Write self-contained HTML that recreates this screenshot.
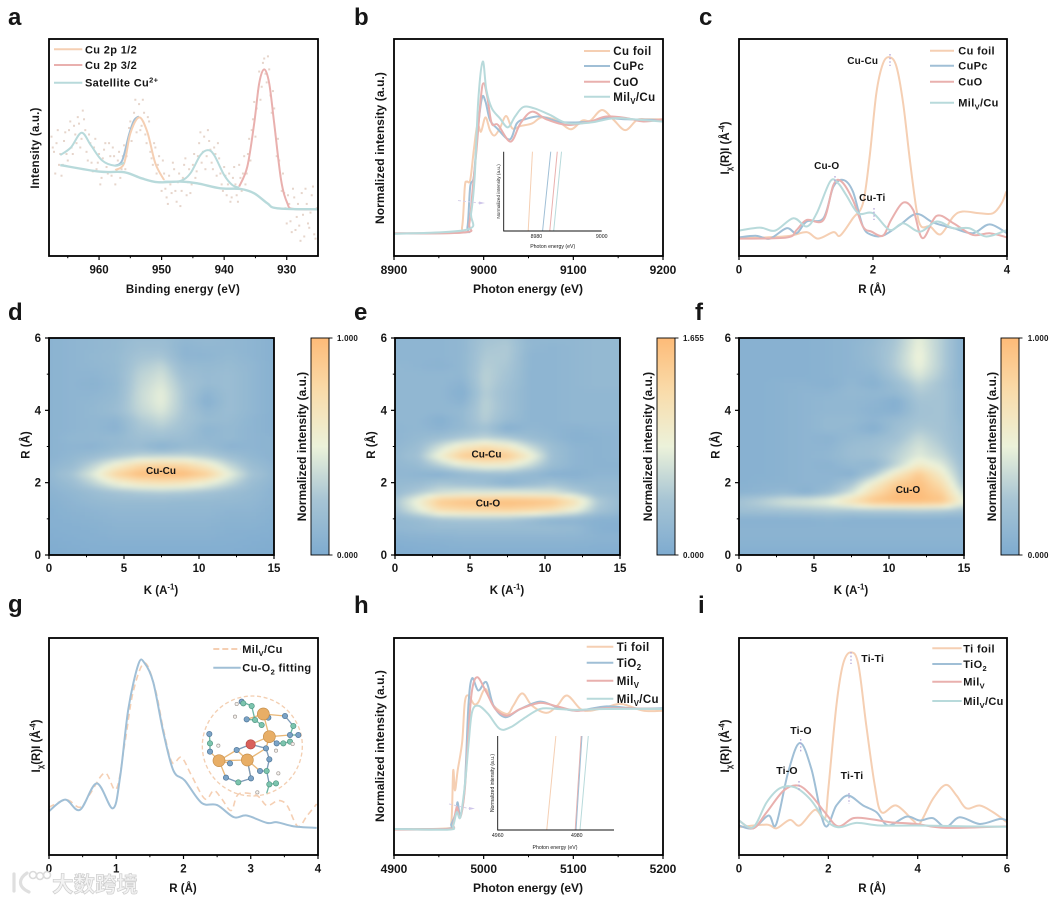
<!DOCTYPE html>
<html lang="en">
<head>
<meta charset="utf-8">
<title>XAFS characterisation panels</title>
<style>
html,body{margin:0;padding:0;background:#fff;}
#figure{display:block;width:1058px;height:902px;font-family:"Liberation Sans","Noto Sans CJK SC",sans-serif;}
</style>
</head>
<body>
<svg id="figure" xmlns="http://www.w3.org/2000/svg" width="1058" height="902" viewBox="0 0 1058 902">
  <defs>
    <linearGradient id="cbar" x1="0" y1="1" x2="0" y2="0">
      <stop offset="0" stop-color="#7eabd0"/>
      <stop offset="0.25" stop-color="#a6c4d4"/>
      <stop offset="0.5" stop-color="#ecf2da"/>
      <stop offset="0.75" stop-color="#f9dcab"/>
      <stop offset="1" stop-color="#fdbb78"/>
    </linearGradient>
    <filter id="soft" x="-5%" y="-5%" width="110%" height="110%"><feGaussianBlur stdDeviation="2"/></filter>
    <filter id="lineSoft" x="-5%" y="-5%" width="110%" height="110%"><feGaussianBlur stdDeviation="0.3"/></filter>
  </defs>
</svg>
<script>
/* ---------- panel a: XPS ---------- */
const aTicks = [960, 950, 940, 930];
const aMinor = [965, 955, 945, 935];
const aPeak12Ev = [957.4, 956, 955, 953.6, 952.3, 951, 949.6];
const aPeak12I = [39.6, 42.7, 56.5, 63.9, 57.3, 42.7, 35];
const aEnvelopeEv = [957.4, 956.3, 955.2, 954.4, 953.6];
const aEnvelopeI = [41.6, 44, 56, 62.5, 64.3];
const aPeak32Ev = [937.6, 936.3, 935.2, 934.4, 933.6, 932.8, 932, 930.9, 929.9, 929, 925];
const aPeak32I = [32, 41.2, 61.1, 79.6, 86, 79.6, 61.1, 35, 24.3, 21.7, 21.5];
const aSat1Ev = [966.2, 964.5, 962.8, 961.3, 959.5, 957.4, 956];
const aSat1I = [46.5, 50, 56.8, 51, 44, 41.6, 43];
const aSat2Ev = [949.6, 947, 945.4, 943.8, 942.6, 941.6, 940, 938.7, 937.6];
const aSat2I = [34.3, 34.6, 38.1, 46.5, 48.8, 46.5, 37.3, 32.7, 31.5];
const aBaseEv = [966.2, 960, 956, 953.2, 950.6, 947, 944.3, 940.6, 937.4, 935.2, 933.1, 931.5, 925];
const aBaseI = [41.9, 38.9, 38.6, 35.8, 34, 34.3, 33.5, 31.2, 30.9, 28.9, 24.3, 22, 21.5];
const aNoiseEv = [967.6,967.2,966.8,966.4,966,965.6,965.2,964.8,964.4,964,963.6,963.2,962.8,962.4,962,961.6,961.2,960.8,960.4,960,959.6,959.2,958.8,958.4,958,957.6,957.2,956.8,956.4,956,955.6,955.2,954.8,954.4,954,953.6,953.2,952.8,952.4,952,951.6,951.2,950.8,950.4,950,949.6,949.2,948.8,948.4,948,947.6,947.2,946.8,946.4,946,945.6,945.2,944.8,944.4,944,943.6,943.2,942.8,942.4,942,941.6,941.2,940.8,940.4,940,939.6,939.2,938.8,938.4,938,937.6,937.2,936.8,936.4,936,935.6,935.2,934.8,934.4,934,933.6,933.2,932.8,932.4,932,931.6,931.2,930.8,930.4,930,929.6,929.2,928.8,928.4,928,927.6,927.2,926.8,926.4,926,925.6,925.2];
const aNoiseI = [55,48,52,42,37,53,47,58,50,60,52,61,54,63,48,56,43,50,40,47,36,49,41,52,37,46,39,48,40,51,46,59,53,66,57,70,60,66,52,62,45,52,38,46,30,38,27,37,29,40,25,38,30,42,28,40,33,47,39,52,43,55,46,53,43,50,37,45,33,41,28,38,27,41,28,42,30,46,38,54,58,71,68,85,78,91,80,86,66,68,46,44,30,29,15,24,11,27,18,14,29,9,24,13,28,10,22];
const aNoise2Ev = [967.4,967,966.6,966.2,965.8,965.4,965,964.6,964.2,963.8,963.4,963,962.6,962.2,961.8,961.4,961,960.6,960.2,959.8,959.4,959,958.6,958.2,957.8,957.4,957,956.6,956.2,955.8,955.4,955,954.6,954.2,953.8,953.4,953,952.6,952.2,951.8,951.4,951,950.6,950.2,949.8,949.4,949,948.6,948.2,947.8,947.4,947,946.6,946.2,945.8,945.4,945,944.6,944.2,943.8,943.4,943,942.6,942.2,941.8,941.4,941,940.6,940.2,939.8,939.4,939,938.6,938.2,937.8,937.4,937,936.6,936.2,935.8,935.4,935,934.6,934.2,933.8,933.4,933,932.6,932.2,931.8,931.4,931,930.6,930.2,929.8,929.4,929,928.6,928.2,927.8,927.4,927,926.6,926.2,925.8,925.4];
const aNoise2I = [50,38,58,47,42,57,44,62,47,56,64,50,67,58,44,52,39,54,43,33,45,52,38,46,50,33,44,36,46,40,52,62,60,72,64,58,72,56,64,48,42,50,42,34,44,31,24,33,43,30,34,23,36,45,34,29,42,36,46,57,48,40,58,49,40,47,52,38,30,37,33,25,36,33,25,36,38,33,47,44,63,55,76,72,89,84,92,74,76,56,54,37,38,22,28,16,31,12,24,7,19,31,15,20,32,8];

/* ---------- panel b: Cu K-edge XANES ---------- */
const bTicks = [8900, 9000, 9100, 9200];
const bMinor = [8950, 9050, 9150];
const bFoilE = [8900,8970,8976,8979,8981,8985,8989,8993,8997,9002,9007,9012,9018,9025,9032,9041,9054,9065,9082,9097,9110,9119,9132,9145,9158,9171,9182,9200];
const bFoilI = [10.4,10.8,13.5,32,34.3,35,48.8,60.4,57.3,63.9,58,55.5,58.8,64.5,58.8,59.9,61.1,63.9,62.4,58.4,62.4,62.4,67.3,62.7,58,62.7,63,63];
const bCuPcE = [8900,8977,8982,8985,8989,8993,8998,9002,9007,9015,9029,9037,9046,9063,9082,9097,9119,9137,9160,9200];
const bCuPcI = [10.4,10.9,13.5,32,36.6,56.5,72.7,71.2,62.7,58.8,53.7,61.1,63,64.3,62,61.5,62,63.5,63,62.7];
const bCuOE = [8900,8979,8984,8988,8992,8997,9000,9004,9009,9016,9030,9041,9054,9070,9093,9119,9137,9160,9178,9200];
const bCuOI = [10.4,10.9,14.9,32,48.8,73.5,79.6,73.5,61.1,60.4,52.7,61.1,66.5,63,60.4,62,64.3,63.5,62,63];
const bMilE = [8900,8981,8986,8990,8994,8999,9003,9009,9018,9027,9035,9044,9056,9074,9093,9119,9145,9167,9200];
const bMilI = [10.2,12.1,19.7,36.6,71.9,89.6,76.5,68.1,63.5,59.3,64.3,68.6,68.1,65,61.2,61.5,63.5,63,61.9];
const bInsetTicks = [8980, 9000];
const bInsetFoil = [8977.5, 8978.8];
const bInsetCuPc = [8981.9, 8984.4];
const bInsetCuO = [8984.1, 8986.4];
const bInsetMil = [8985.3, 8987.7];
const insetLevels = [0, 1];

/* ---------- panel c: Cu FT-EXAFS ---------- */
const cTicks = [0, 2, 4];
const cMinor = [1, 3];
const cFoilR = [0,.41,.76,1.01,1.18,1.41,1.51,1.7,1.85,1.95,2.05,2.15,2.25,2.35,2.45,2.55,2.65,2.72,2.85,3.01,3.2,3.34,3.59,3.79,3.92,3.99];
const cFoilI = [8.2,8.6,9.3,11,8,11,9.4,17.4,24.3,45.8,75,88.8,91.6,87.3,70.4,44.3,21.2,13.6,13.6,10,18.2,20.5,19.7,19.7,24.3,29.7];
const cCuPcR = [0,.26,.46,.71,.86,1.01,1.26,1.41,1.56,1.7,1.85,1.98,2.15,2.4,2.65,2.9,3.2,3.49,3.74,4];
const cCuPcI = [8.6,9.3,8,12.8,10.5,15.9,17.4,32,35,29.7,13.6,9.7,9.4,14.3,19.4,15.4,12.8,10.5,14.6,10.5];
const cCuOR = [0,.71,.86,1.01,1.26,1.41,1.53,1.7,1.85,1.98,2.15,2.27,2.45,2.6,2.74,2.95,3.2,3.49,3.74,4];
const cCuOI = [8,8.5,12,16.6,16.6,32.8,34.3,25.8,13.6,11.2,9.4,16.6,24.6,21.2,8.2,18.5,15.1,9.7,10.5,8.6];
const cMilR = [0,.31,.54,.81,1.01,1.16,1.36,1.48,1.6,1.78,2,2.25,2.45,2.7,2.95,3.2,3.44,3.69,4];
const cMilI = [11.7,13.1,11.7,17.4,13.6,19.7,34.3,33.5,28.1,19.7,19.7,12,15.1,11.2,15.9,12.8,12.8,9,12];

/* ---------- panels d, e, f: wavelet maps (rows R, columns k, percent of scale) ---------- */
const heatK = [0, 1.5, 3, 4.5, 6, 7.5, 9, 10.5, 12, 13.5, 15];
const heatR = [6, 5.75, 5.5, 5.25, 5, 4.75, 4.5, 4.25, 4, 3.75, 3.5, 3.25, 3, 2.75, 2.5, 2.25, 2, 1.75, 1.5, 1.25, 1, .75, .5, .25, 0];
const kTicks = [0, 5, 10, 15];
const kMinor = [2.5, 7.5, 12.5];
const rTicks = [0, 2, 4, 6];
const rMinor = [1, 3, 5];
const dRows = [
[8,10,12,14,18,18,12,14,12,10,6],
[8,10,12,14,20,20,10,12,12,10,6],
[8,10,13,15,24,26,10,10,14,10,6],
[8,10,12,14,28,34,16,14,16,12,6],
[8,10,10,14,32,40,20,16,18,12,6],
[8,10,8,13,34,44,24,16,18,12,6],
[8,10,10,14,36,48,26,10,18,12,6],
[8,10,12,16,36,48,26,6,18,12,6],
[8,10,13,18,34,44,26,12,18,12,6],
[8,10,12,10,28,36,24,16,16,10,6],
[8,10,12,8,24,28,22,10,14,10,6],
[8,12,13,14,20,20,18,12,14,10,8],
[8,10,8,14,16,6,14,16,8,10,8],
[8,12,18,26,34,36,36,30,20,12,8],
[10,16,34,56,76,82,78,60,36,18,10],
[12,24,46,80,97,100,98,84,50,24,12],
[10,18,34,52,64,68,64,52,36,18,10],
[8,12,18,24,28,30,28,24,18,14,8],
[6,10,14,16,16,16,14,14,14,12,8],
[5,8,10,12,12,12,12,12,10,10,6],
[5,6,8,10,10,10,10,10,8,8,5],
[4,5,6,8,8,8,8,8,6,6,4],
[3,4,5,6,6,6,6,6,5,4,3],
[2,3,4,4,4,4,4,4,4,3,2],
[1,2,3,3,3,3,3,3,3,2,1]];
const eRows = [
[10,10,10,12,24,26,12,12,12,14,14],
[10,10,10,12,26,28,12,10,12,14,14],
[10,10,10,12,28,28,10,10,12,14,14],
[12,10,8,12,30,26,10,10,12,14,14],
[12,12,12,12,32,24,10,10,12,14,14],
[12,12,12,8,32,22,10,10,12,14,14],
[12,12,12,4,30,20,10,10,12,12,12],
[12,12,12,8,32,20,10,10,12,12,12],
[12,12,12,14,32,20,10,10,12,12,12],
[12,12,5,14,30,16,10,10,12,12,12],
[10,12,8,14,22,4,12,10,8,10,10],
[10,14,20,28,34,28,18,12,6,8,10],
[12,18,40,62,74,62,38,18,10,8,10],
[14,22,54,86,94,88,56,20,10,8,10],
[12,16,32,48,56,54,38,18,10,8,8],
[12,10,6,14,18,18,14,6,6,10,10],
[14,16,24,20,16,6,14,22,14,14,14],
[16,28,40,44,44,46,44,42,30,16,14],
[26,54,90,96,98,100,98,94,70,30,16],
[22,44,70,76,78,80,76,68,50,24,14],
[12,16,22,24,24,22,16,8,8,6,6],
[12,14,16,16,16,16,16,16,14,6,4],
[6,8,8,10,10,10,10,10,10,8,8],
[3,4,5,6,6,6,6,6,6,5,5],
[2,3,3,4,4,4,4,4,4,3,3]];
const fRows = [
[6,6,6,6,8,10,14,26,48,30,6],
[6,6,6,6,8,10,16,28,50,30,6],
[6,6,6,6,8,10,16,30,52,30,6],
[6,6,6,6,8,10,14,30,50,30,6],
[6,6,6,6,8,10,10,26,44,28,6],
[6,6,8,8,6,12,6,18,34,24,8],
[6,6,8,10,10,14,12,14,28,24,10],
[6,6,8,10,12,12,10,4,24,24,10],
[6,6,8,10,12,12,8,6,22,24,10],
[6,6,8,10,14,14,10,16,24,24,12],
[6,6,8,10,14,12,4,20,28,24,14],
[6,6,8,10,8,14,16,22,36,26,14],
[6,6,8,10,10,18,20,28,42,30,14],
[6,6,8,10,12,18,20,32,46,36,16],
[6,6,8,10,8,14,10,34,60,46,18],
[6,6,8,10,10,6,28,62,88,58,20],
[6,8,8,10,10,24,56,86,96,72,24],
[8,10,14,6,18,40,74,96,98,84,36],
[24,32,42,46,52,72,94,100,100,94,50],
[20,22,24,26,28,28,30,30,32,30,24],
[6,6,6,6,8,6,6,6,6,6,6],
[8,8,8,8,8,8,8,8,8,8,8],
[8,8,8,8,8,8,8,8,8,8,8],
[6,6,6,6,6,6,6,6,6,6,6],
[4,4,4,4,4,4,4,4,4,4,4]];

/* ---------- panel g: fit ---------- */
const gTicks = [0, 1, 2, 3, 4];
const gMinor = [.5, 1.5, 2.5, 3.5];
const gDataR = [0,.26,.46,.61,.83,1,1.13,1.25,1.42,1.58,1.7,1.83,1.97,2.12,2.32,2.45,2.57,2.71,2.82,3.09,3.24,3.41,3.54,3.7,3.84,3.98];
const gDataI = [22,25.4,22,28.1,37.8,30.4,52,75,88.5,76.5,58.1,42.7,45,36.6,25.8,29.7,25.8,20.5,28.1,27.4,22.8,25.1,22.8,13.2,18.2,23.5];
const gFitR = [0,.24,.46,.71,.95,1.06,1.18,1.33,1.42,1.55,1.7,1.85,2.02,2.27,2.5,2.75,2.94,3.24,3.39,3.64,3.98];
const gFitI = [20.2,25.5,20.8,33,21.5,36.6,67.3,88,88.5,79.6,56.6,38.9,34.3,24,23,17.4,18.2,14.8,15.1,13.2,12.5];

/* ---------- panel h: Ti K-edge XANES ---------- */
const hTicks = [4900, 5000, 5100, 5200];
const hMinor = [4950, 5050, 5150];
const hFoilE = [4900,4959,4964,4966,4968,4971,4976,4979,4983,4989,4994,5002,5011,5026,5033,5043,5054,5070,5082,5093,5108,5119,5137,5154,5178,5200];
const hFoilI = [12,12.3,15.1,38.9,29.7,38.9,52,70.4,73.5,69.6,70.4,76.5,68.8,65,68.8,74.5,68.8,65.5,68.8,73.5,67.3,66.5,68.1,69.6,66.5,66.5];
const hTiO2E = [4900,4959,4964,4969,4971,4974,4979,4983,4987,4994,5003,5011,5024,5041,5063,5082,5104,5137,5167,5200];
const hTiO2I = [12,12,14.3,19.7,24.3,18.2,32,68.8,81.4,75.8,79.6,68.8,63.5,67.3,70.7,68.1,66.5,68.5,67.6,67.6];
const hMilE = [4900,4961,4966,4970,4974,4979,4983,4987,4993,5003,5013,5026,5041,5063,5082,5104,5137,5200];
const hMilI = [11.7,12,14.3,22,17.4,30.4,56.6,75.8,81.9,75,67.3,64.2,67.3,70.1,68.5,66.5,67.6,67.3];
const hMilCuE = [4900,4961,4966,4970,4974,4979,4983,4987,4994,5005,5018,5030,5044,5063,5082,5104,5137,5200];
const hMilCuI = [12,11.7,13.6,19.7,17.4,32,50.4,65.8,68.8,65,58.1,58.9,62.7,67.3,67.3,66.9,67.3,67.3];
const hInsetTicks = [4960, 4980];
const hInsetFoil = [4972.4, 4974.7];
const hInsetTiO2 = [4979.8, 4981.3];
const hInsetMil = [4979.6, 4981.1];
const hInsetMilCu = [4980.8, 4982.9];

/* ---------- panel i: Ti FT-EXAFS ---------- */
const iTicks = [0, 2, 4, 6];
const iMinor = [1, 3, 5];
const iFoilR = [0,.62,.84,1.14,1.36,1.7,1.92,2,2.18,2.33,2.5,2.67,2.85,3.04,3.19,3.52,3.9,4.04,4.34,4.63,4.87,5.09,5.39,5.69,6];
const iFoilI = [12.8,14,12.3,16.2,13.6,20.8,16.6,30.4,68.8,88,93.4,88,59.6,32,19.7,22.8,15.9,14.3,25.8,32.3,27.4,21.5,22.8,19.7,15.1];
const iTiO2R = [0,.32,.66,.83,1.1,1.36,1.62,1.92,2.18,2.44,2.78,3.08,3.34,3.75,4.05,4.34,4.63,4.94,5.39,5.83,6];
const iTiO2I = [13.6,12.3,18.2,14,38.1,51.6,39.7,13.6,22.8,27.4,22.8,19.7,13.6,17.7,15.9,17,12.8,17.4,14.3,16.6,15.9];
const iMilR = [0,.32,.62,1,1.33,1.62,1.92,2.22,2.56,2.93,3.38,3.97,4.64,6];
const iMilI = [15.9,12.3,19.7,29.7,32,27.4,19.7,13.2,17,16.6,15.1,14.3,12.5,13.2];
const iMilCuR = [0,.32,.62,.92,1.25,1.59,1.92,2.22,2.63,3.15,3.97,5.09,6];
const iMilCuI = [15.9,12.8,24.3,30.8,31.2,25.8,16.6,12.8,14.8,13.6,13.6,13.2,13];

/* ---------- rendering ---------- */
const NS = 'http://www.w3.org/2000/svg';
const root = document.getElementById('figure');
const PEACH = '#f5cfb3', BLUE = '#a0bfd6', PINK = '#e9b0ae', TEAL = '#b8dadb';
const INK = '#161616';

function node(tag, parent, attrs) {
  const n = document.createElementNS(NS, tag);
  for (const k in attrs) n.setAttribute(k, attrs[k]);
  parent.appendChild(n);
  return n;
}

function label(parent, parts, x, y, size, name, opts) {
  opts = opts || {};
  const t = node('text', parent, {
    x: x, y: y, 'font-size': size, fill: opts.fill || INK,
    'font-weight': opts.weight || 'bold',
    'text-anchor': opts.anchor || 'start',
    'font-family': '"Liberation Sans","Noto Sans CJK SC",sans-serif'
  });
  
  
  if (opts.spacing) t.setAttribute('letter-spacing', opts.spacing);
  if (opts.rotate) t.setAttribute('transform', 'rotate(-90 ' + x + ' ' + y + ')');
  let back = 0;
  [].concat(parts).forEach(function (p) {
    const s = node('tspan', t, {});
    if (typeof p === 'string') {
      s.textContent = p;
      if (back) { s.setAttribute('dy', back); back = 0; }
    } else {
      const shift = p.sub ? size * 0.28 : -size * 0.38;
      s.textContent = p.sub || p.sup;
      s.setAttribute('font-size', size * 0.68);
      s.setAttribute('dy', shift + back);
      back = -shift;
    }
  });
  return t;
}

function panel(name, left, right, top, bottom, xDomain, yDomain) {
  const g = node('g', root, {});
  
  
  return {
    g: g, left: left, right: right, top: top, bottom: bottom,
    x: function (v) { return left + (v - xDomain[0]) / (xDomain[1] - xDomain[0]) * (right - left); },
    y: function (v) { return bottom - (v - yDomain[0]) / (yDomain[1] - yDomain[0]) * (bottom - top); }
  };
}

function smooth(pts) {
  let d = 'M' + pts[0][0].toFixed(2) + ' ' + pts[0][1].toFixed(2);
  for (let i = 0; i < pts.length - 1; i++) {
    const p0 = pts[Math.max(0, i - 1)], p1 = pts[i], p2 = pts[i + 1], p3 = pts[Math.min(pts.length - 1, i + 2)];
    const c1x = p1[0] + (p2[0] - p0[0]) / 6, c1y = p1[1] + (p2[1] - p0[1]) / 6;
    const c2x = p2[0] - (p3[0] - p1[0]) / 6, c2y = p2[1] - (p3[1] - p1[1]) / 6;
    d += 'C' + c1x.toFixed(2) + ' ' + c1y.toFixed(2) + ' ' + c2x.toFixed(2) + ' ' + c2y.toFixed(2) + ' ' + p2[0].toFixed(2) + ' ' + p2[1].toFixed(2);
  }
  return d;
}

function series(p, xs, ys, color, name, width, dash) {
  const pts = xs.map(function (v, i) { return [p.x(v), p.y(ys[i])]; });
  const s = node('path', p.g, { d: smooth(pts), fill: 'none', stroke: color, 'stroke-width': width || 2, 'stroke-linejoin': 'round', filter: 'url(#lineSoft)' });
  if (dash) s.setAttribute('stroke-dasharray', dash);
  
  
  return s;
}

function frame(p) {
  const f = node('rect', p.g, { x: p.left, y: p.top, width: p.right - p.left, height: p.bottom - p.top, fill: 'none', stroke: '#000', 'stroke-width': 1.8 });
  
  
}

function xAxis(p, ticks, minor, size, dy, fmt) {
  ticks.forEach(function (v) {
    const t = node('line', p.g, { x1: p.x(v), x2: p.x(v), y1: p.bottom, y2: p.bottom + 4, stroke: '#000', 'stroke-width': 1.2 });
    
    
    label(p.g, fmt ? fmt(v) : String(v), p.x(v), p.bottom + dy, size, 'x-tick-label', { anchor: 'middle' });
  });
  minor.forEach(function (v) {
    const t = node('line', p.g, { x1: p.x(v), x2: p.x(v), y1: p.bottom, y2: p.bottom + 2.2, stroke: '#000', 'stroke-width': 1 });
    
    
  });
}

function yAxis(p, ticks, minor, size, labelRight) {
  ticks.forEach(function (v) {
    const t = node('line', p.g, { x1: p.left - 4, x2: p.left, y1: p.y(v), y2: p.y(v), stroke: '#000', 'stroke-width': 1.2 });
    
    
    label(p.g, String(v), labelRight, p.y(v) + 4, size, 'y-tick-label', { anchor: 'end' });
  });
  minor.forEach(function (v) {
    const t = node('line', p.g, { x1: p.left - 2.2, x2: p.left, y1: p.y(v), y2: p.y(v), stroke: '#000', 'stroke-width': 1 });
    
    
  });
}

function legend(p, x1, x2, textX, items, size) {
  items.forEach(function (it) {
    const l = node('line', p.g, { x1: x1, x2: x2, y1: it.y, y2: it.y, stroke: it.color, 'stroke-width': 2 });
    if (it.dash) l.setAttribute('stroke-dasharray', it.dash);
    
    
    label(p.g, it.parts, textX, it.y + size * 0.36, size, 'legend-entry', { spacing: it.spacing === undefined ? 0.35 : it.spacing });
  });
}

function dottedMark(p, x, y1, y2) {
  const m = node('line', p.g, { x1: x, x2: x, y1: y1, y2: y2, stroke: '#b3a6d8', 'stroke-width': 1.3, 'stroke-dasharray': '1.6 2' });
  
  
}

function inset(p, left, right, top, bottom, xDomain, ticks, lines, opts) {
  const g = node('g', p.g, {});
  
  
  const ix = function (v) { return left + (v - xDomain[0]) / (xDomain[1] - xDomain[0]) * (right - left); };
  const iy = function (v) { return bottom - v * (bottom - top); };
  lines.forEach(function (l) {
    const s = node('line', g, { x1: ix(l.values[0]), x2: ix(l.values[1]), y1: iy(insetLevels[0]), y2: iy(insetLevels[1]), stroke: l.color, 'stroke-width': 1 });
    
    
  });
  const ax = node('path', g, { d: 'M' + left + ' ' + top + 'V' + bottom + 'H' + right, fill: 'none', stroke: '#111', 'stroke-width': 0.9 });
  
  
  ticks.forEach(function (v) {
    label(g, String(v), ix(v), bottom + 7, 5.2, 'inset-tick-label', { anchor: 'middle', weight: 'normal' });
  });
  label(g, 'Normalized intensity (a.u.)', left - 3.5, (top + bottom) / 2, opts.ySize, 'inset-y-title', { anchor: 'middle', rotate: true, weight: 'normal' });
  label(g, 'Photon energy (eV)', opts.titleX, opts.titleY, 5.2, 'inset-x-title', { anchor: 'middle', weight: 'normal' });
}

function arrowMark(p, x1, y1, x2, y2) {
  const a = node('line', p.g, { x1: x1, y1: y1, x2: x2 - 6, y2: y2, stroke: '#d8d2ea', 'stroke-width': 1, 'stroke-dasharray': '3 2' });
  
  
  const h = node('polygon', p.g, { points: (x2 - 6) + ',' + (y2 - 1.5) + ' ' + x2 + ',' + y2 + ' ' + (x2 - 6) + ',' + (y2 + 1.5), fill: '#cfc6ea' });
  
  
}

/* colour scale */
const scaleStops = [[0, [126, 171, 208]], [.25, [166, 196, 212]], [.5, [236, 242, 218]], [.75, [249, 220, 171]], [1, [253, 187, 120]]];
function colour(t) {
  t = Math.max(0, Math.min(1, t));
  for (let i = 0; i < scaleStops.length - 1; i++) {
    const a = scaleStops[i], b = scaleStops[i + 1];
    if (t <= b[0]) {
      const f = (t - a[0]) / (b[0] - a[0]);
      return 'rgb(' + a[1].map(function (c, j) { return Math.round(c + (b[1][j] - c) * f); }).join(',') + ')';
    }
  }
  return 'rgb(253,187,120)';
}

function cellValue(rows, k, r) {
  const fc = Math.max(0, Math.min(heatK.length - 1.0001, k / (heatK[1] - heatK[0])));
  const fr = Math.max(0, Math.min(heatR.length - 1.0001, (heatR[0] - r) / (heatR[0] - heatR[1])));
  const c = Math.floor(fc), w = Math.floor(fr), a = fc - c, b = fr - w;
  return (rows[w][c] * (1 - a) + rows[w][c + 1] * a) * (1 - b) + (rows[w + 1][c] * (1 - a) + rows[w + 1][c + 1] * a) * b;
}

let clipCount = 0;
function heatmap(p, rows) {
  clipCount++;
  const cp = node('clipPath', p.g, { id: 'clip' + clipCount });
  node('rect', cp, { x: p.left, y: p.top, width: p.right - p.left, height: p.bottom - p.top });
  const outer = node('g', p.g, { 'clip-path': 'url(#clip' + clipCount + ')' });
  
  
  const g = node('g', outer, { filter: 'url(#soft)' });
  const stepK = 0.3, stepR = 0.1;
  for (let k = -1.5; k < 16.5; k += stepK) {
    for (let r = -0.6; r < 6.6; r += stepR) {
      const v = cellValue(rows, k + stepK / 2, r + stepR / 2);
      const cell = node('rect', g, {
        x: p.x(k), y: p.y(r + stepR),
        width: p.x(k + stepK) - p.x(k) + 0.6, height: p.y(r) - p.y(r + stepR) + 0.6,
        fill: colour(v / 100)
      });
      
      
    }
  }
}

function colorbar(p, left, right, top, bottom, topLabel, textX, titleX) {
  const b = node('rect', p.g, { x: left, y: top, width: right - left, height: bottom - top, fill: 'url(#cbar)', stroke: '#000', 'stroke-width': 0.9 });
  
  
  [top, bottom].forEach(function (y) {
    const t = node('line', p.g, { x1: right, x2: right + 3.5, y1: y, y2: y, stroke: '#000', 'stroke-width': 0.9 });
    
    
  });
  label(p.g, topLabel, textX, top + 3, 8, 'colorbar-max-label', { spacing: 0.2 });
  label(p.g, '0.000', textX, bottom + 3, 8, 'colorbar-min-label', { spacing: 0.2 });
  label(p.g, 'Normalized intensity (a.u.)', titleX, (top + bottom) / 2, 12, 'colorbar-title', { anchor: 'middle', rotate: true });
}

function panelLetter(text, x, y) {
  label(root, text, x, y, 24, 'panel-label-' + text, {});
}

/* --- a --- */
const pa = panel('xps-panel', 49, 318, 39, 256, [968, 925], [0, 100]);
const noiseGroup = node('g', pa.g, {});


aNoiseEv.forEach(function (v, i) {
  const d = node('rect', noiseGroup, { x: pa.x(v) - 1, y: pa.y(aNoiseI[i]) - 1, width: 2, height: 2, fill: '#e6d5cb' });
  
  
});
aNoise2Ev.forEach(function (v, i) {
  const d = node('rect', noiseGroup, { x: pa.x(v) - 1, y: pa.y(aNoise2I[i]) - 1, width: 2, height: 2, fill: '#e6d5cb' });
  
  
});
series(pa, aEnvelopeEv, aEnvelopeI, BLUE, 'envelope-curve');
series(pa, aPeak12Ev, aPeak12I, PEACH, 'cu-2p-1-2-curve');
series(pa, aPeak32Ev, aPeak32I, PINK, 'cu-2p-3-2-curve');
series(pa, aSat1Ev, aSat1I, TEAL, 'satellite-curve-high');
series(pa, aSat2Ev, aSat2I, TEAL, 'satellite-curve-low');
series(pa, aBaseEv, aBaseI, TEAL, 'background-curve', 2.4);
frame(pa);
xAxis(pa, aTicks, aMinor, 11.5, 17.5);
legend(pa, 54, 82.3, 85, [
  { y: 49.3, color: PEACH, parts: 'Cu 2p 1/2' },
  { y: 65, color: PINK, parts: 'Cu 2p 3/2' },
  { y: 82.7, color: TEAL, parts: ['Satellite Cu', { sup: '2+' }] }
], 11);
label(pa.g, 'Binding energy (eV)', 183, 293, 11.5, 'x-axis-title', { anchor: 'middle', spacing: 0.3 });
label(pa.g, 'Intensity (a.u.)', 39, 148, 11.5, 'y-axis-title', { anchor: 'middle', rotate: true, spacing: 0.2 });
panelLetter('a', 8, 25);

/* --- b --- */
const pb = panel('cu-xanes-panel', 394, 663, 39, 256, [8900, 9200], [0, 100]);
series(pb, bFoilE, bFoilI, PEACH, 'cu-foil-line');
series(pb, bCuPcE, bCuPcI, BLUE, 'cupc-line');
series(pb, bCuOE, bCuOI, PINK, 'cuo-line');
series(pb, bMilE, bMilI, TEAL, 'milv-cu-line');
arrowMark(pb, 458, 200.5, 485, 203);
inset(pb, 503.7, 601.7, 151.7, 231, [8970, 9000], bInsetTicks, [
  { values: bInsetFoil, color: PEACH }, { values: bInsetCuPc, color: BLUE },
  { values: bInsetCuO, color: PINK }, { values: bInsetMil, color: TEAL }
], { ySize: 4.7, titleX: 552.7, titleY: 248 });
frame(pb);
xAxis(pb, bTicks, bMinor, 12, 18);
legend(pb, 584, 610, 613.3, [
  { y: 51, color: PEACH, parts: 'Cu foil' },
  { y: 66, color: BLUE, parts: 'CuPc' },
  { y: 81.7, color: PINK, parts: 'CuO' },
  { y: 96.7, color: TEAL, parts: ['Mil', { sub: 'V' }, '/Cu'] }
], 11.5);
label(pb.g, 'Photon energy (eV)', 528, 293, 12, 'x-axis-title', { anchor: 'middle' });
label(pb.g, 'Normalized intensity (a.u.)', 384, 148, 12, 'y-axis-title', { anchor: 'middle', rotate: true, spacing: 0.1 });
panelLetter('b', 354, 25);

/* --- c --- */
const pc = panel('cu-exafs-panel', 739, 1007, 39, 256, [0, 4], [0, 100]);
series(pc, cFoilR, cFoilI, PEACH, 'cu-foil-line');
series(pc, cCuPcR, cCuPcI, BLUE, 'cupc-line');
series(pc, cCuOR, cCuOI, PINK, 'cuo-line');
series(pc, cMilR, cMilI, TEAL, 'milv-cu-line');
dottedMark(pc, 890, 54, 66);
dottedMark(pc, 835, 176, 184);
dottedMark(pc, 874, 208, 220);
label(pc.g, 'Cu-Cu', 862.7, 64, 10, 'peak-label-cu-cu', { anchor: 'middle' , spacing: 0.2});
label(pc.g, 'Cu-O', 826.7, 169, 10, 'peak-label-cu-o', { anchor: 'middle', spacing: 0.2 });
label(pc.g, 'Cu-Ti', 872.3, 201, 10, 'peak-label-cu-ti', { anchor: 'middle', spacing: 0.2 });
frame(pc);
xAxis(pc, cTicks, cMinor, 11.5, 17.5);
legend(pc, 930, 954, 958.3, [
  { y: 50.7, color: PEACH, parts: 'Cu foil' },
  { y: 65.7, color: BLUE, parts: 'CuPc' },
  { y: 81.7, color: PINK, parts: 'CuO' },
  { y: 102.7, color: TEAL, parts: ['Mil', { sub: 'V' }, '/Cu'] }
], 11);
label(pc.g, 'R (Å)', 872, 293, 11.5, 'x-axis-title', { anchor: 'middle' });
label(pc.g, ['I', { sub: 'χ' }, '(R)I (Å', { sup: '-4' }, ')'], 729, 148, 11.5, 'y-axis-title', { anchor: 'middle', rotate: true });
panelLetter('c', 699, 25);

/* --- d --- */
const pd = panel('cu-foil-wavelet-panel', 49, 274, 338, 555, [0, 15], [0, 6]);
heatmap(pd, dRows);
frame(pd);
xAxis(pd, kTicks, kMinor, 11.5, 17);
yAxis(pd, rTicks, rMinor, 11.5, 41);
label(pd.g, 'Cu-Cu', 161, 474, 10, 'peak-label-cu-cu', { anchor: 'middle' });
label(pd.g, ['K (A', { sup: '-1' }, ')'], 161, 594, 11.5, 'x-axis-title', { anchor: 'middle' });
label(pd.g, 'R (Å)', 29.5, 445, 11.5, 'y-axis-title', { anchor: 'middle', rotate: true });
colorbar(pd, 311, 329, 338, 555, '1.000', 337, 306);
panelLetter('d', 8, 320);

/* --- e --- */
const pe = panel('cuo-wavelet-panel', 395, 620, 338, 555, [0, 15], [0, 6]);
heatmap(pe, eRows);
frame(pe);
xAxis(pe, kTicks, kMinor, 11.5, 17);
yAxis(pe, rTicks, rMinor, 11.5, 387);
label(pe.g, 'Cu-Cu', 486.5, 457.5, 10, 'peak-label-cu-cu', { anchor: 'middle' });
label(pe.g, 'Cu-O', 488, 506.5, 10, 'peak-label-cu-o', { anchor: 'middle' });
label(pe.g, ['K (A', { sup: '-1' }, ')'], 507, 594, 11.5, 'x-axis-title', { anchor: 'middle' });
label(pe.g, 'R (Å)', 375, 445, 11.5, 'y-axis-title', { anchor: 'middle', rotate: true });
colorbar(pe, 657, 675, 338, 555, '1.655', 683, 652);
panelLetter('e', 354, 320);

/* --- f --- */
const pf = panel('milv-cu-wavelet-panel', 739, 964, 338, 555, [0, 15], [0, 6]);
heatmap(pf, fRows);
frame(pf);
xAxis(pf, kTicks, kMinor, 11.5, 17);
yAxis(pf, rTicks, rMinor, 11.5, 731);
label(pf.g, 'Cu-O', 908, 493, 10, 'peak-label-cu-o', { anchor: 'middle' });
label(pf.g, ['K (A', { sup: '-1' }, ')'], 851, 594, 11.5, 'x-axis-title', { anchor: 'middle' });
label(pf.g, 'R (Å)', 719.5, 445, 11.5, 'y-axis-title', { anchor: 'middle', rotate: true });
colorbar(pf, 1001, 1019, 338, 555, '1.000', 1027.7, 996);
panelLetter('f', 695, 320);

/* --- g --- */
const pg = panel('fit-panel', 49, 318, 638, 855, [0, 4], [0, 100]);
series(pg, gDataR, gDataI, PEACH, 'milv-cu-data-line', 1.6, '6 4');
series(pg, gFitR, gFitI, BLUE, 'cu-o2-fitting-line');
frame(pg);
xAxis(pg, gTicks, gMinor, 11.5, 17.5);
legend(pg, 213.3, 240.7, 242.3, [
  { y: 649, color: PEACH, dash: '6 3', parts: ['Mil', { sub: 'V' }, '/Cu'] },
  { y: 667.7, color: BLUE, parts: ['Cu-O', { sub: '2' }, ' fitting'] }
], 11);
label(pg.g, 'R (Å)', 183, 892, 11.5, 'x-axis-title', { anchor: 'middle' });
label(pg.g, ['I', { sub: 'χ' }, '(R)I (Å', { sup: '-4' }, ')'], 40, 746, 11.5, 'y-axis-title', { anchor: 'middle', rotate: true });
panelLetter('g', 8, 612);

/* molecular inset (illustration, not data) */
(function () {
  const mol = node('g', pg.g, { transform: 'translate(0,600) scale(0.33333)' });
  
  
  const ring = node('circle', mol, { cx: 757, cy: 438, r: 150, fill: 'none', stroke: '#f3cfb2', 'stroke-width': 4, 'stroke-dasharray': '12 8' });
  
  
  const bonds = [
    [790,342,740,358,'#e9b878'],[790,342,855,348,'#e9b878'],[790,342,805,353,'#e9b878'],[808,410,790,342,'#e9b878'],[808,410,870,405,'#e9b878'],[808,410,798,445,'#e9b878'],[808,410,752,433,'#e9b878'],
    [742,480,657,482,'#e9b878'],[742,480,710,450,'#e9b878'],[742,480,753,535,'#e9b878'],[742,480,798,445,'#e9b878'],[742,480,780,513,'#e9b878'],[657,482,690,490,'#e9b878'],[657,482,630,455,'#e9b878'],[657,482,710,450,'#e9b878'],[657,482,678,533,'#e9b878'],
    [752,433,710,450,'#7d9bb8'],[752,433,798,445,'#7d9bb8'],[678,533,715,547,'#7d9bb8'],[715,547,753,535,'#7d9bb8'],[753,535,742,480,'#7d9bb8'],[780,513,800,513,'#7d9bb8'],[800,513,808,478,'#7d9bb8'],[808,478,798,445,'#7d9bb8'],[800,513,808,553,'#7d9bb8'],[808,553,828,550,'#6fb7a5'],[808,553,800,580,'#6fb7a5'],
    [855,348,880,378,'#7d9bb8'],[880,378,870,405,'#6fb7a5'],[870,405,895,405,'#6fb7a5'],[850,430,870,425,'#6fb7a5'],[830,430,850,430,'#6fb7a5'],[830,430,808,410,'#7d9bb8'],[725,305,755,318,'#6fb7a5'],[755,318,765,360,'#6fb7a5'],[740,358,765,360,'#6fb7a5'],[765,360,785,375,'#6fb7a5'],[628,402,630,430,'#6fb7a5'],[630,430,630,455,'#6fb7a5']
  ];
  bonds.forEach(function (b) {
    const l = node('line', mol, { x1: b[0], y1: b[1], x2: b[2], y2: b[3], stroke: b[4], 'stroke-width': 4 });
    
    
  });
  const atoms = [
    [[725,305],[740,358],[805,353],[855,348],[628,402],[630,455],[710,450],[690,490],[678,533],[753,535],[780,513],[798,445],[808,478],[830,430],[870,405],[895,405]],
    [[730,310],[755,318],[765,360],[785,375],[880,378],[630,430],[715,547],[800,513],[808,553],[828,550],[850,430],[870,425]],
    [[710,312],[705,350],[655,437],[828,452],[878,432],[835,520],[772,577]],
    [[790,342],[808,410],[742,480],[657,482]],
    [[752,433]]
  ];
  const looks = [[8, '#7ba3c6', '#4e7596'], [8, '#7cc4ae', '#4f9580'], [5, '#f4f0ec', '#a09a96'], [18, '#e8ae66', '#c58f4d'], [14, '#d9605a', '#b54a46']];
  atoms.forEach(function (list, i) {
    list.forEach(function (a) {
      const c = node('circle', mol, { cx: a[0], cy: a[1], r: looks[i][0], fill: looks[i][1], stroke: looks[i][2], 'stroke-width': 2 });
      
      
    });
  });
})();

/* --- h --- */
const ph = panel('ti-xanes-panel', 394, 663, 638, 855, [4900, 5200], [0, 100]);
series(ph, hFoilE, hFoilI, PEACH, 'ti-foil-line');
series(ph, hTiO2E, hTiO2I, BLUE, 'tio2-line');
series(ph, hMilE, hMilI, PINK, 'milv-line');
series(ph, hMilCuE, hMilCuI, TEAL, 'milv-cu-line');
arrowMark(ph, 449, 804, 475, 808.5);
inset(ph, 497.7, 614, 736, 830, [4960, 4989.4], hInsetTicks, [
  { values: hInsetFoil, color: PEACH }, { values: hInsetMil, color: PINK },
  { values: hInsetTiO2, color: BLUE }, { values: hInsetMilCu, color: TEAL }
], { ySize: 5, titleX: 555, titleY: 849 });
frame(ph);
xAxis(ph, hTicks, hMinor, 12, 18);
legend(ph, 586.7, 613.3, 616.7, [
  { y: 646.7, color: PEACH, parts: 'Ti foil' },
  { y: 662.7, color: BLUE, parts: ['TiO', { sub: '2' }] },
  { y: 680.7, color: PINK, parts: ['Mil', { sub: 'V' }] },
  { y: 698.7, color: TEAL, parts: ['Mil', { sub: 'V' }, '/Cu'] }
], 11.5);
label(ph.g, 'Photon energy (eV)', 528, 892, 12, 'x-axis-title', { anchor: 'middle' });
label(ph.g, 'Normalized intensity (a.u.)', 384, 746, 12, 'y-axis-title', { anchor: 'middle', rotate: true, spacing: 0.1 });
panelLetter('h', 354, 613);

/* --- i --- */
const pi = panel('ti-exafs-panel', 739, 1007, 638, 855, [0, 6], [0, 100]);
series(pi, iFoilR, iFoilI, PEACH, 'ti-foil-line');
series(pi, iTiO2R, iTiO2I, BLUE, 'tio2-line');
series(pi, iMilR, iMilI, PINK, 'milv-line');
series(pi, iMilCuR, iMilCuI, TEAL, 'milv-cu-line');
dottedMark(pi, 851, 652, 664);
dottedMark(pi, 800.7, 739, 752);
dottedMark(pi, 799, 781, 790);
dottedMark(pi, 849, 793, 804);
label(pi.g, 'Ti-Ti', 872.7, 662, 10.5, 'peak-label-ti-ti', { anchor: 'middle', spacing: 0.2 });
label(pi.g, 'Ti-O', 801, 734, 10.5, 'peak-label-ti-o', { anchor: 'middle', spacing: 0.2 });
label(pi.g, 'Ti-O', 787, 774, 10.5, 'peak-label-ti-o', { anchor: 'middle', spacing: 0.2 });
label(pi.g, 'Ti-Ti', 852, 779, 10.5, 'peak-label-ti-ti', { anchor: 'middle', spacing: 0.2 });
frame(pi);
xAxis(pi, iTicks, iMinor, 11.5, 17.5);
legend(pi, 932.3, 961.7, 963.3, [
  { y: 648.3, color: PEACH, parts: 'Ti foil' },
  { y: 664, color: BLUE, parts: ['TiO', { sub: '2' }] },
  { y: 681.7, color: PINK, parts: ['Mil', { sub: 'V' }] },
  { y: 701, color: TEAL, parts: ['Mil', { sub: 'V' }, '/Cu'] }
], 11);
label(pi.g, 'R (Å)', 872, 892, 11.5, 'x-axis-title', { anchor: 'middle' });
label(pi.g, ['I', { sub: 'χ' }, '(R)I (Å', { sup: '-4' }, ')'], 729, 746, 11.5, 'y-axis-title', { anchor: 'middle', rotate: true });
panelLetter('i', 698, 613);

/* --- watermark --- */
(function () {
  const w = node('g', root, { opacity: 0.9 });
  
  
  const mark = node('path', w, { d: 'M14 874V891M27 873C18 879 18 887 29 892', fill: 'none', stroke: '#dcdcdc', 'stroke-width': 3.2, 'stroke-linecap': 'round' });
  
  
  [[33, 875, 3.5], [40, 876, 3.5], [47, 875, 3.5]].forEach(function (c) {
    const o = node('circle', w, { cx: c[0], cy: c[1], r: c[2], fill: 'none', stroke: '#d6d6d6', 'stroke-width': 1.6 });
    
    
  });
  const t = label(w, '大数跨境', 52, 892, 21.5, 'watermark-text', { fill: '#f2f2f2', weight: 'bold' });
  t.setAttribute('stroke', '#c9c9c9');
  t.setAttribute('stroke-width', '0.7');
})();
</script>
</body>
</html>
